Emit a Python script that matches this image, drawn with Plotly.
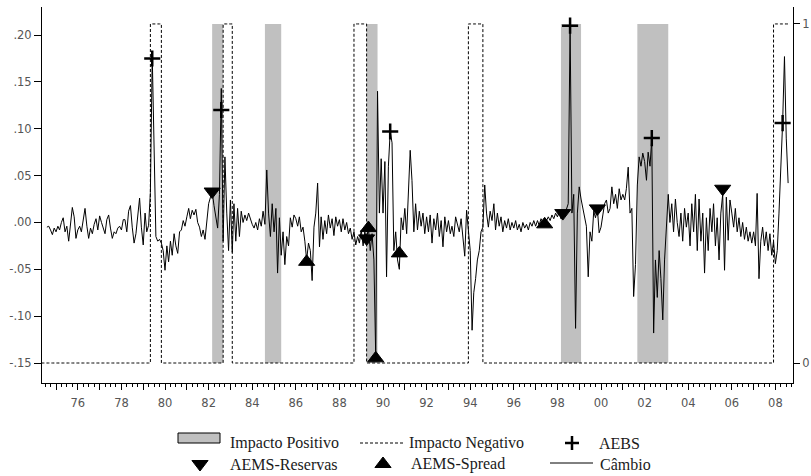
import plotly.graph_objects as go
import pandas as pd

# ---------------- data ----------------
start_month = "1974-08-01"
cambio = [
    # 1974 (Aug-Dec)
    -0.005, -0.004, -0.008, -0.013, -0.006,
    # 1975
    -0.010, -0.004, -0.008, 0.000, 0.005, -0.010, -0.004, -0.020, -0.002, 0.016, 0.006, -0.017,
    # 1976
    -0.008, -0.004, -0.010, 0.004, 0.015, -0.004, -0.017, -0.006, -0.012, -0.002, 0.004, -0.008,
    # 1977
    0.007, 0.000, -0.006, -0.012, 0.003, 0.008, -0.006, -0.017, -0.010, -0.012, -0.006, -0.004,
    # 1978
    -0.008, 0.003, 0.003, -0.010, 0.012, 0.018, -0.005, -0.022, -0.012, 0.010, 0.026, -0.005,
    # 1979
    -0.024, 0.010, -0.010, -0.003, 0.032, 0.178, 0.095, -0.015, -0.020, -0.018, -0.022, -0.030,
    # 1980
    -0.051, -0.025, -0.042, -0.020, -0.035, -0.012, -0.025, -0.033, -0.010, -0.008, 0.002, -0.004,
    # 1981
    0.006, 0.015, 0.004, 0.013, 0.008, 0.014, 0.000, -0.005, -0.015, -0.008, -0.018, 0.005,
    # 1982
    0.020, 0.027, 0.033, 0.018, 0.006, -0.006, 0.030, 0.143, -0.020, 0.070, 0.010, -0.030,
    # 1983
    0.024, -0.032, 0.020, -0.020, 0.015, -0.015, 0.012, 0.000, 0.008, 0.002, 0.010, 0.003,
    # 1984
    -0.002, -0.006, 0.000, -0.008, 0.004, -0.004, 0.012, -0.002, 0.056, 0.010, -0.015, 0.020,
    # 1985
    -0.010, 0.015, -0.054, 0.005, -0.035, -0.010, -0.045, -0.015, -0.025, 0.005, -0.005, 0.008,
    # 1986
    0.004, -0.004, 0.006, -0.010, -0.005, -0.020, -0.040, -0.022, -0.030, -0.062, -0.005, 0.010,
    # 1987
    0.042, -0.026, 0.006, -0.018, 0.002, -0.012, 0.008, -0.006, 0.004, -0.014, 0.006, -0.004,
    # 1988
    0.003, -0.010, 0.004, -0.008, 0.000, -0.012, -0.006, -0.018, -0.010, -0.024, -0.015, -0.022,
    # 1989
    -0.008, -0.025, -0.010, -0.017, -0.006, -0.030, -0.012, -0.040, -0.145, 0.140, 0.010, 0.068,
    # 1990
    0.010, 0.065, -0.058, 0.060, 0.097, 0.085, -0.030, -0.010, -0.040, -0.050, 0.005, -0.008,
    # 1991
    0.015, -0.012, 0.030, 0.077, 0.045, -0.010, 0.020, -0.008, 0.012, -0.004, 0.010, -0.012,
    # 1992
    0.006, -0.010, 0.008, -0.022, 0.004, -0.008, 0.010, -0.015, 0.002, -0.026, 0.006, -0.010,
    # 1993
    0.002, -0.012, -0.004, -0.015, 0.006, -0.002, -0.010, 0.004, -0.014, -0.036, 0.013, -0.005,
    # 1994
    -0.030, -0.115, -0.075, -0.060, -0.040, -0.030, -0.010, -0.005, 0.040, 0.010, -0.005, 0.012,
    # 1995
    0.002, 0.020, -0.008, 0.010, -0.004, 0.006, -0.010, 0.002, -0.006, 0.004, -0.008, 0.000,
    # 1996
    -0.006, 0.002, -0.008, -0.002, -0.010, 0.000, -0.006, -0.002, -0.008, 0.000, -0.004, 0.002,
    # 1997
    -0.004, 0.002, -0.003, 0.004, 0.000, -0.002, 0.003, 0.006, 0.002, 0.008, 0.004, 0.010,
    # 1998
    0.006, 0.012, 0.004, 0.010, 0.008, 0.015, 0.020, 0.210, 0.010, 0.030, -0.113, 0.010,
    # 1999
    0.038, 0.025, 0.016, 0.005, -0.004, -0.058, -0.010, -0.020, 0.012, 0.005, 0.015, -0.011,
    # 2000
    -0.005, 0.008, 0.020, 0.024, 0.010, 0.015, 0.038, 0.020, 0.030, 0.015, 0.036, 0.024,
    # 2001
    0.030, 0.024, 0.036, 0.059, 0.010, 0.015, -0.079, -0.045, 0.040, 0.070, 0.060, 0.074,
    # 2002
    0.065, 0.045, 0.075, 0.060, 0.090, -0.118, -0.040, -0.080, -0.030, -0.060, -0.104, -0.040,
    # 2003
    -0.010, 0.030, 0.000, 0.020, -0.010, 0.025, 0.000, -0.015, 0.010, -0.020, 0.015, -0.005,
    # 2004
    0.010, -0.025, 0.020, -0.010, 0.030, -0.030, 0.025, -0.020, 0.010, -0.054, 0.005, -0.030,
    # 2005
    0.015, -0.010, 0.020, -0.025, 0.005, -0.040, 0.010, 0.030, -0.051, 0.027, -0.019, 0.024,
    # 2006
    0.010, -0.005, 0.015, -0.010, 0.005, -0.015, 0.000, -0.018, -0.005, -0.020, -0.010, -0.022,
    # 2007
    -0.010, -0.025, 0.031, -0.060, -0.020, -0.005, -0.025, -0.010, -0.030, -0.012, -0.035, -0.020,
    # 2008 (Jan-Aug)
    -0.044, -0.030, 0.010, 0.060, 0.106, 0.177, 0.090, 0.042,
]

# Impacto Negativo dummy: months where it equals 1 (first, last)
dummy_start, dummy_end = "1974-05-01", "2008-09-01"
neg_periods = [("1979-05-01", "1979-10-01"), ("1982-09-01", "1983-01-01"),
               ("1988-09-01", "1989-03-01"), ("1993-12-01", "1994-07-01"),
               ("2007-12-01", "2008-09-01")]
# Impacto Positivo shaded spans (start, end)
pos_periods = [("1982-03-01", "1982-09-01"), ("1984-08-01", "1985-05-01"),
               ("1989-04-01", "1989-10-01"), ("1998-03-01", "1999-02-01"),
               ("2001-09-01", "2003-02-01")]

aebs_dates = ["1979-06-01", "1982-08-01", "1990-05-01", "1998-08-01", "2002-05-01", "2008-05-01"]
aebs_vals = [0.175, 0.120, 0.097, 0.210, 0.090, 0.106]
res_dates = ["1982-03-01", "1989-04-01", "1998-04-01", "1999-11-01", "2005-08-01"]
res_vals = [0.033, -0.017, 0.010, 0.015, 0.036]
spr_dates = ["1986-07-01", "1989-05-01", "1989-09-01", "1990-10-01", "1997-06-01"]
spr_vals = [-0.042, -0.006, -0.145, -0.033, -0.002]

y_ticks = [-0.15, -0.10, -0.05, 0.0, 0.05, 0.10, 0.15, 0.20]
y_tick_text = ["-.15", "-.10", "-.05", ".00", ".05", ".10", ".15", ".20"]
tick_years = list(range(1975, 2009))

legend_names = ["Impacto Positivo", "AEMS-Reservas", "Impacto Negativo",
                "AEMS-Spread", "AEBS", "Câmbio"]

# ---------------- build ----------------
dates = pd.date_range(start_month, periods=len(cambio), freq="MS")
dummy_dates = pd.date_range(dummy_start, dummy_end, freq="MS")
neg = [1 if any(pd.Timestamp(s) <= d <= pd.Timestamp(e) for s, e in neg_periods) else 0
       for d in dummy_dates]

px_, py_ = [], []
for s, e in pos_periods:
    px_ += [s, s, e, e, None]
    py_ += [0, 1, 1, 0, None]

BLACK = "black"
TICKFONT = dict(family="DejaVu Sans", size=11.5, color="#555555")
LEGFONT = dict(family="Liberation Serif", size=16, color="#1a1a1a")
tri = dict(size=14, color=BLACK, line=dict(width=1, color=BLACK))
plus = dict(size=11.5, color=BLACK, line=dict(width=2.5, color=BLACK))
plus_leg = dict(size=10, color=BLACK, line=dict(width=2.5, color=BLACK))

fig = go.Figure()
# base axis "y" = right 0/1 axis (drawn underneath)
fig.add_trace(go.Scatter(x=px_, y=py_, yaxis="y", fill="toself", fillcolor="#c0c0c0",
                         mode="lines", line=dict(width=0), hoverinfo="skip"))
fig.add_trace(go.Scatter(x=dummy_dates, y=neg, yaxis="y", mode="lines", line_shape="hv",
                         line=dict(color=BLACK, width=1, dash="3px,2px")))
# overlay axis "y2" = left value axis (drawn on top)
fig.add_trace(go.Scatter(x=dates, y=cambio, yaxis="y2", mode="lines",
                         line=dict(color=BLACK, width=1)))
fig.add_trace(go.Scatter(x=aebs_dates, y=aebs_vals, yaxis="y2", mode="markers",
                         marker=dict(symbol="cross-thin", **plus)))
fig.add_trace(go.Scatter(x=res_dates, y=res_vals, yaxis="y2", mode="markers",
                         marker=dict(symbol="triangle-down", **tri)))
fig.add_trace(go.Scatter(x=spr_dates, y=spr_vals, yaxis="y2", mode="markers",
                         marker=dict(symbol="triangle-up", **tri)))

# ---- legend (drawn on a hidden pixel-scaled axis below the plot) ----
fig.add_trace(go.Scatter(x=[200], y=[464], xaxis="x3", yaxis="y3", mode="markers",
                         marker=dict(symbol="triangle-down", **tri)))
fig.add_trace(go.Scatter(x=[383], y=[464], xaxis="x3", yaxis="y3", mode="markers",
                         marker=dict(symbol="triangle-up", **tri)))
fig.add_trace(go.Scatter(x=[572], y=[443], xaxis="x3", yaxis="y3", mode="markers",
                         marker=dict(symbol="cross-thin", **plus_leg)))
fig.add_shape(type="rect", xref="x3", yref="y3", x0=178, x1=220, y0=433, y1=443,
              fillcolor="#c0c0c0", line=dict(color=BLACK, width=1))
fig.add_shape(type="line", xref="x3", yref="y3", x0=360, x1=405, y0=443, y1=443,
              line=dict(color=BLACK, width=1, dash="3px,2px"))
fig.add_shape(type="line", xref="x3", yref="y3", x0=550, x1=593, y0=463, y1=463,
              line=dict(color=BLACK, width=1))
leg_pos = [(228, 443), (228, 464), (407, 443), (409, 464), (597, 443), (598, 464)]
for name, (lx, ly) in zip(legend_names, leg_pos):
    fig.add_annotation(x=lx, y=ly, xref="x3", yref="y3", text=name, showarrow=False,
                       xanchor="left", yanchor="middle", font=LEGFONT)

fig.update_layout(
    width=811, height=476, margin=dict(l=42, r=18, t=7, b=0),
    paper_bgcolor="white", plot_bgcolor="white", showlegend=False,
    xaxis=dict(type="date", range=["1974-05-11", "2008-10-22"], anchor="y",
               showline=True, linecolor=BLACK, linewidth=1, showgrid=False, zeroline=False,
               tickmode="array", tickvals=[f"{y}-01-01" for y in tick_years],
               ticktext=[f"{y % 100:02d}" if y % 2 == 0 else "" for y in tick_years],
               ticks="outside", ticklen=6, tickcolor=BLACK, tickfont=TICKFONT,
               ticklabelstandoff=3,
               minor=dict(ticks="outside", ticklen=3, tickcolor=BLACK,
                          dtick="M3", tick0="1975-01-01", showgrid=False)),
    yaxis=dict(domain=[93 / 469, 1], side="right", anchor="x", range=[-0.059, 1.050],
               showline=True, linecolor=BLACK, linewidth=1, showgrid=False, zeroline=False,
               tickmode="array", tickvals=[0, 1], ticktext=["0", "1"],
               ticks="outside", ticklen=6, tickcolor=BLACK, tickfont=TICKFONT),
    yaxis2=dict(overlaying="y", side="left", anchor="x", range=[-0.1713, 0.2299],
                showline=True, linecolor=BLACK, linewidth=1, showgrid=False, zeroline=False,
                tickmode="array", tickvals=y_ticks, ticktext=y_tick_text,
                ticks="outside", ticklen=7, tickcolor=BLACK, tickfont=TICKFONT),
    xaxis3=dict(domain=[0, 1], range=[42, 793], anchor="y3", visible=False, fixedrange=True),
    yaxis3=dict(domain=[0, 93 / 469], range=[476, 383], anchor="x3", visible=False,
                fixedrange=True),
)

fig.write_html("out.html", config={"displayModeBar": False},
               post_script="document.body.style.margin='0';document.body.style.overflow='hidden';")
